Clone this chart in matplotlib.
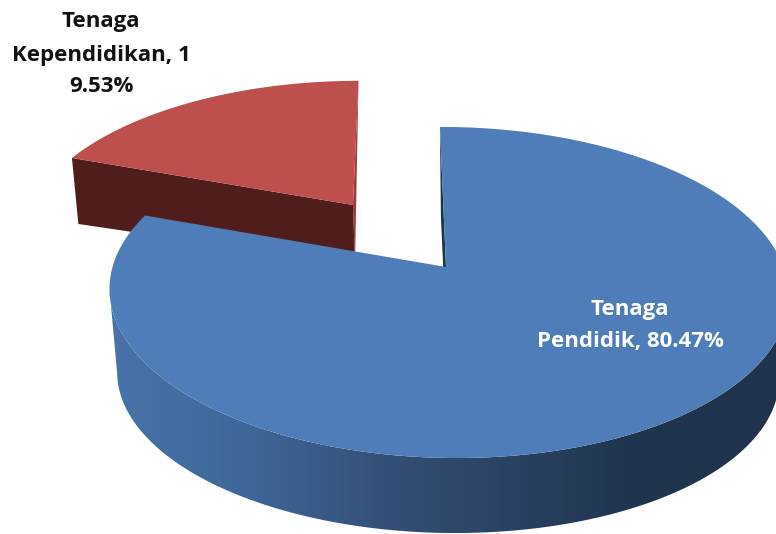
import numpy as np
import matplotlib
matplotlib.use("Agg")
import matplotlib.pyplot as plt
from matplotlib.colors import LinearSegmentedColormap
from matplotlib.patches import Polygon

#  DATA
shares      = [80.47, 19.53]   # percent, clockwise from 12 o'clock
label_lines = [["Tenaga", "Pendidik, 80.47%"],
               ["Tenaga", "Kependidikan, 1", "9.53%"]]

#  COLOURS
BLUE_TOP  = "#4e7db9"
RED_TOP   = "#bd4f4c"
RED_FRONT = "#4f1e1c"
RED_BACK  = "#9a3d3a"
BLUE_BACK = "#1f344d"

# Wall shading runs left to right across the blue slice
wall_x      = [108, 250, 390, 500, 640, 776]
wall_colors = ["#4874ab", "#3f6698", "#344f76", "#2b4465", "#1f344d", "#1f344d"]

#  DISC GEOMETRY (pixels)  cx, cy, R, H, shear, perspective, side perspective
BLUE_TOP_RIM = (446, 267, 335.5, 161.6, -7.0, 0.154, -0.006)
BLUE_BOT_RIM = (447, 351, 327, 154.0, -7.0, 0.154, 0.0)
RED_TOP_RIM  = (353, 205, 321, 149.0, 6.6, 0.20, 0.0)
RED_BOT_RIM  = (355, 265, 316, 130.0, 6.6, 0.20, 0.0)


def rim(theta_deg, cx, cy, R, H, shear, k, m):
    """Project points of a circle (clockwise degrees from top) onto the screen."""
    t = np.radians(theta_deg)
    u, v = np.sin(t), np.cos(t)
    s = 1.0 / (1.0 + k * v + m * u)
    return np.column_stack([cx + (R * u + shear * v) * s, cy - H * v * s])


fig = plt.figure(figsize=(7.76, 5.34), dpi=100)
ax = fig.add_axes([0, 0, 1, 1])

blue_end = 360.0 * shares[0] / sum(shares)
blue_t = np.linspace(0, blue_end, 400)
red_t  = np.linspace(blue_end, 360, 150)

# Red slice, pulled out of the pie
red_top = rim(red_t, *RED_TOP_RIM)
red_bot = rim(red_t, *RED_BOT_RIM)
red_apex_top = np.array(RED_TOP_RIM[:2], dtype=float)
red_apex_bot = np.array(RED_BOT_RIM[:2], dtype=float)
ax.add_patch(Polygon([red_top[-1], red_apex_top, red_apex_bot],
                     fc=RED_BACK, ec="none", zorder=1))
ax.add_patch(Polygon([red_top[0], red_apex_top, red_apex_bot, red_bot[0]],
                     fc=RED_FRONT, ec="none", zorder=1))
ax.add_patch(Polygon(np.vstack([red_apex_top, red_top]),
                     fc=RED_TOP, ec="none", zorder=2))

# Blue outer wall with horizontal shading, from the right silhouette to the left one
blue_top = rim(blue_t, *BLUE_TOP_RIM)
blue_bot = rim(blue_t, *BLUE_BOT_RIM)
i_right = np.argmax(blue_top[:, 0])
i_left  = np.argmin(blue_top[:, 0])
wall = Polygon(np.vstack([blue_top[i_right:i_left + 1],
                          blue_bot[i_right:i_left + 1][::-1]]),
               fc="none", ec="none", transform=ax.transData)
ax.add_patch(wall)
stops = [(x - wall_x[0]) / (wall_x[-1] - wall_x[0]) for x in wall_x]
cmap = LinearSegmentedColormap.from_list("wall", list(zip(stops, wall_colors)))
im = ax.imshow(np.linspace(0, 1, 512)[None, :], cmap=cmap, aspect="auto",
               extent=(wall_x[0], wall_x[-1], 534, 0), zorder=3)
im.set_clip_path(wall)

# Inner wall seen through the gap, then the blue top face
blue_apex_top = np.array(BLUE_TOP_RIM[:2], dtype=float)
blue_apex_bot = np.array(BLUE_BOT_RIM[:2], dtype=float)
ax.add_patch(Polygon([blue_top[0], blue_apex_top, blue_apex_bot, blue_bot[0]],
                     fc=BLUE_BACK, ec="none", zorder=4))
ax.add_patch(Polygon(np.vstack([blue_apex_top, blue_top]),
                     fc=BLUE_TOP, ec="none", zorder=5))

# Labels
font = dict(family="Open Sans", fontweight="bold", fontsize=16,
            ha="center", va="center", zorder=6)
for line, y in zip(label_lines[0], [310, 342]):
    ax.text(630, y, line, color="white", **font)
for line, y in zip(label_lines[1], [22, 55, 87]):
    ax.text(101, y, line, color="#111111", **font)

ax.set_xlim(0, 776)
ax.set_ylim(534, 0)
ax.axis("off")

plt.savefig("out.png", dpi=100)
